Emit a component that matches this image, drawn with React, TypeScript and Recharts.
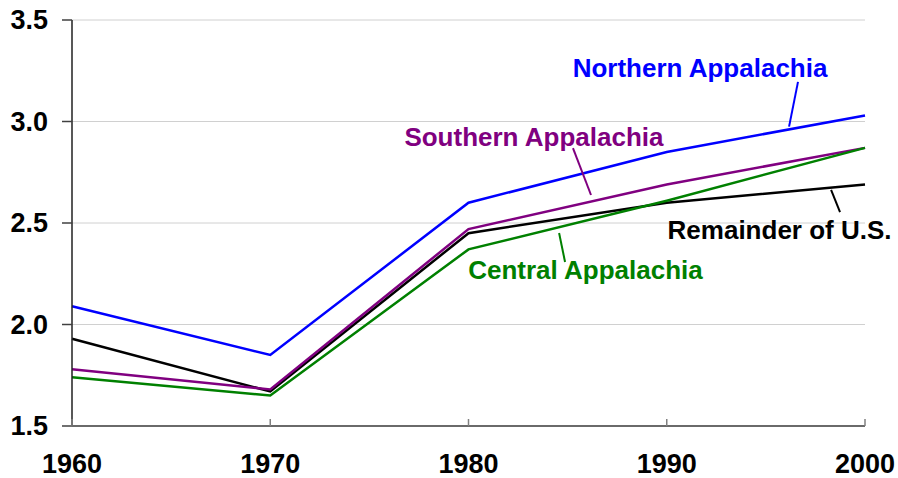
import React from 'react';
import { LineChart, Line, XAxis, YAxis, CartesianGrid, ReferenceLine, ReferenceDot } from 'recharts';

const years = [1960, 1970, 1980, 1990, 2000];
const northern = [2.09, 1.85, 2.6, 2.85, 3.03];
const southern = [1.78, 1.68, 2.47, 2.69, 2.87];
const remainder = [1.93, 1.67, 2.45, 2.6, 2.69];
const central = [1.74, 1.65, 2.37, 2.61, 2.87];
const yTicks = [1.5, 2.0, 2.5, 3.0, 3.5];

const data = years.map((y, i) => ({
  year: y,
  northern: northern[i],
  southern: southern[i],
  remainder: remainder[i],
  central: central[i],
}));

const FONT = "Arial, 'Liberation Sans', sans-serif";

const annotations = [
  { text: 'Northern Appalachia', color: '#0000FF', at: [1991.68, 3.264], leader: [[1996.62, 3.195], [1996.17, 2.975]] },
  { text: 'Southern Appalachia', color: '#800080', at: [1983.3, 2.924], leader: [[1985.27, 2.869], [1986.18, 2.638]] },
  { text: 'Remainder of U.S.', color: '#000000', at: [1995.69, 2.466], leader: [[1998.29, 2.663], [1998.74, 2.554]] },
  { text: 'Central Appalachia', color: '#008000', at: [1985.9, 2.268], leader: [[1984.57, 2.451], [1984.87, 2.308]] },
];

const XTick = (props: any) => {
  const { x, y, payload } = props;
  return (
    <g>
      <line x1={x} y1={y} x2={x} y2={y - 7} stroke="#808080" strokeWidth={1.5} />
      <text x={x} y={y + 38} textAnchor="middle" dominantBaseline="central" fontSize={27} fontWeight="bold" fill="#000" fontFamily={FONT}>
        {payload.value}
      </text>
    </g>
  );
};

const YTick = (props: any) => {
  const { x, y, payload } = props;
  return (
    <text x={x + 1} y={y} textAnchor="end" dominantBaseline="central" fontSize={27} fontWeight="bold" fill="#000" fontFamily={FONT}>
      {payload.value.toFixed(1)}
    </text>
  );
};

export default function App() {
  return (
    <div style={{ position: 'absolute', left: 0, top: 0, background: '#fff' }}>
      <LineChart
        width={898}
        height={478}
        data={data}
        margin={{ top: 20, right: 33, bottom: 0, left: 0 }}
        style={{ fontFamily: FONT }}
      >
        <CartesianGrid horizontal={true} vertical={false} stroke="#d0d0d0" strokeWidth={1} />
        <XAxis
          dataKey="year"
          type="number"
          domain={[1960, 2000]}
          ticks={years}
          height={52}
          tickSize={0}
          tickMargin={0}
          tickLine={false}
          axisLine={{ stroke: '#404040', strokeWidth: 1.5 }}
          tick={<XTick />}
          interval={0}
        />
        <YAxis
          type="number"
          domain={[1.5, 3.5]}
          ticks={yTicks}
          width={72}
          tickSize={10}
          tickMargin={15}
          tickLine={{ stroke: '#404040', strokeWidth: 1.5 }}
          axisLine={{ stroke: '#202020', strokeWidth: 1.5 }}
          tick={<YTick />}
          interval={0}
        />
        <Line dataKey="northern" stroke="#0000FF" strokeWidth={2.5} dot={false} isAnimationActive={false} />
        <Line dataKey="remainder" stroke="#000000" strokeWidth={2.5} dot={false} isAnimationActive={false} />
        <Line dataKey="southern" stroke="#800080" strokeWidth={2.5} dot={false} isAnimationActive={false} />
        <Line dataKey="central" stroke="#008000" strokeWidth={2.5} dot={false} isAnimationActive={false} />
        {annotations.map((a) => (
          <ReferenceLine
            key={a.text + '-l'}
            segment={[{ x: a.leader[0][0], y: a.leader[0][1] }, { x: a.leader[1][0], y: a.leader[1][1] }]}
            stroke={a.color}
            strokeWidth={2}
          />
        ))}
        {annotations.map((a) => (
          <ReferenceDot
            key={a.text + '-t'}
            x={a.at[0]}
            y={a.at[1]}
            r={0}
            fill="none"
            stroke="none"
            label={{ value: a.text, position: 'center', fill: a.color, fontSize: 26, fontWeight: 'bold', fontFamily: FONT }}
          />
        ))}
      </LineChart>
    </div>
  );
}
